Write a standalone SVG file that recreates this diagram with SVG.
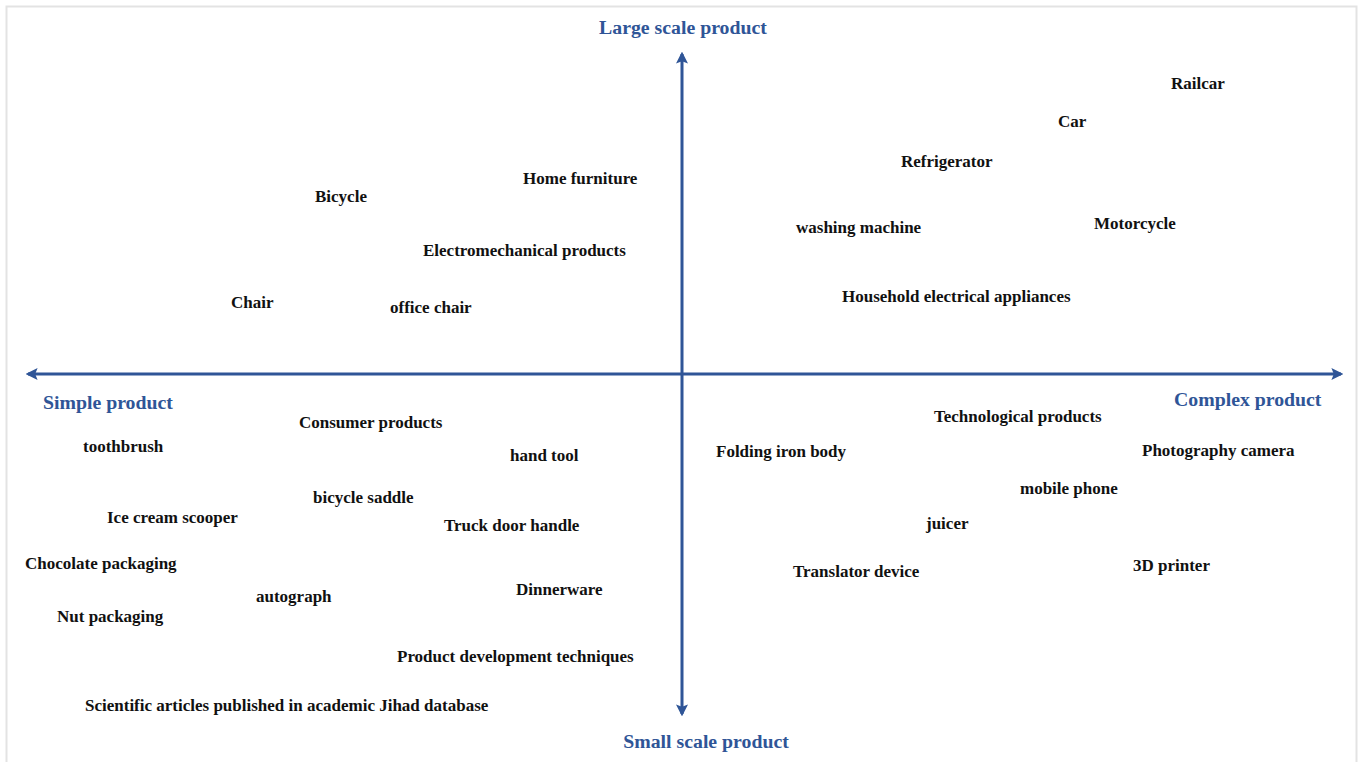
<svg xmlns="http://www.w3.org/2000/svg" width="1363" height="762" viewBox="0 0 1363 762">
<style>
.lbl{font-family:"Liberation Serif","Times New Roman",serif;font-weight:bold;font-size:17px;fill:#111}
.ax{font-family:"Liberation Serif","Times New Roman",serif;font-weight:bold;font-size:19.8px;fill:#2f5597}
.axis{stroke:#2f5597;stroke-width:3;fill:none}
</style>
<defs>
<marker id="ah" viewBox="0 0 10 10" refX="8" refY="5" markerWidth="4" markerHeight="4" orient="auto" markerUnits="strokeWidth">
<path d="M0,0 L10,5 L0,10 L2,5 Z" fill="#2f5597"/>
</marker>
</defs>
<rect width="1363" height="762" fill="#fff"/>
<path d="M6.5,762 V6.5 H1356.5 V762" fill="none" stroke="#e3e3e3" stroke-width="2"/>
<g id="connectors">
<line class="axis" x1="682" y1="374" x2="682" y2="54" marker-end="url(#ah)"/>
<line class="axis" x1="682" y1="374" x2="682" y2="714" marker-end="url(#ah)"/>
<line class="axis" x1="682" y1="374" x2="28" y2="374" marker-end="url(#ah)"/>
<line class="axis" x1="682" y1="374" x2="1341" y2="374" marker-end="url(#ah)"/>
</g>
<g id="axis-labels">
<text id="large" class="ax" x="683" y="34" text-anchor="middle">Large scale product</text>
<text id="small" class="ax" x="706" y="748" text-anchor="middle">Small scale product</text>
<text id="simple" class="ax" x="43" y="409">Simple product</text>
<text id="complex" class="ax" x="1174" y="406">Complex product</text>
</g>
<g id="n-railcar"><text class="lbl" x="1171" y="89">Railcar</text></g>
<g id="n-car"><text class="lbl" x="1058" y="127">Car</text></g>
<g id="n-refrigerator"><text class="lbl" x="901" y="167">Refrigerator</text></g>
<g id="n-home-furniture"><text class="lbl" x="523" y="184">Home furniture</text></g>
<g id="n-bicycle"><text class="lbl" x="315" y="202">Bicycle</text></g>
<g id="n-washing"><text class="lbl" x="796" y="233">washing machine</text></g>
<g id="n-motorcycle"><text class="lbl" x="1094" y="229">Motorcycle</text></g>
<g id="n-electromech"><text class="lbl" x="423" y="256">Electromechanical products</text></g>
<g id="n-household"><text class="lbl" x="842" y="302">Household electrical appliances</text></g>
<g id="n-chair"><text class="lbl" x="231" y="308">Chair</text></g>
<g id="n-office-chair"><text class="lbl" x="390" y="313">office chair</text></g>
<g id="n-consumer"><text class="lbl" x="299" y="428">Consumer products</text></g>
<g id="n-tech"><text class="lbl" x="934" y="422">Technological products</text></g>
<g id="n-toothbrush"><text class="lbl" x="83" y="452">toothbrush</text></g>
<g id="n-hand-tool"><text class="lbl" x="510" y="461">hand tool</text></g>
<g id="n-folding"><text class="lbl" x="716" y="457">Folding iron body</text></g>
<g id="n-camera"><text class="lbl" x="1142" y="456">Photography camera</text></g>
<g id="n-mobile"><text class="lbl" x="1020" y="494">mobile phone</text></g>
<g id="n-saddle"><text class="lbl" x="313" y="503">bicycle saddle</text></g>
<g id="n-icecream"><text class="lbl" x="107" y="523">Ice cream scooper</text></g>
<g id="n-truck"><text class="lbl" x="444" y="531">Truck door handle</text></g>
<g id="n-juicer"><text class="lbl" x="926" y="529">juicer</text></g>
<g id="n-chocolate"><text class="lbl" x="25" y="569">Chocolate packaging</text></g>
<g id="n-translator"><text class="lbl" x="793" y="577">Translator device</text></g>
<g id="n-3d"><text class="lbl" x="1133" y="571">3D printer</text></g>
<g id="n-autograph"><text class="lbl" x="256" y="602">autograph</text></g>
<g id="n-dinnerware"><text class="lbl" x="516" y="595">Dinnerware</text></g>
<g id="n-nut"><text class="lbl" x="57" y="622">Nut packaging</text></g>
<g id="n-pdt"><text class="lbl" x="397" y="662">Product development techniques</text></g>
<g id="n-sci"><text class="lbl" x="85" y="711">Scientific articles published in academic Jihad database</text></g>
</svg>
